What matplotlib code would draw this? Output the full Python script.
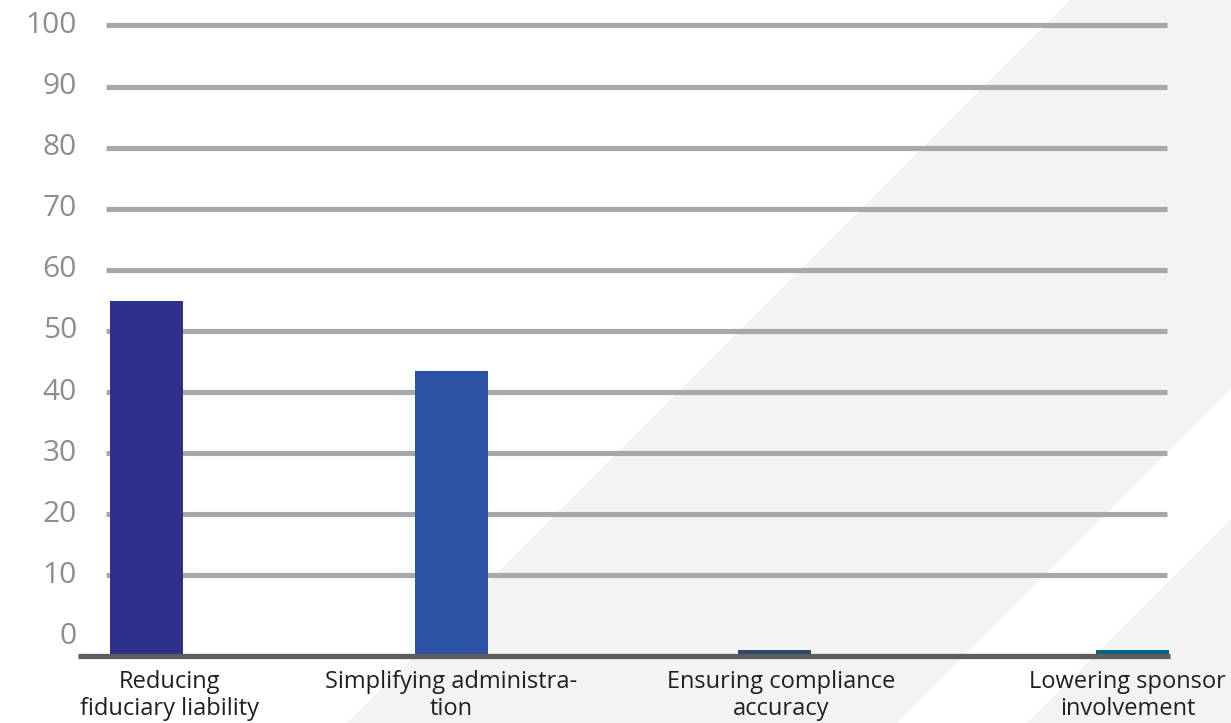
import matplotlib
matplotlib.use("Agg")
import matplotlib.pyplot as plt
from matplotlib.patches import Polygon

# Dane wykresu
kategorie = [
    "Reducing\nfiduciary liability",
    "Simplifying administra-\ntion",
    "Ensuring compliance\naccuracy",
    "Lowering sponsor\ninvolvement",
]
wartosci = [58.1, 46.6, 0.9, 0.9]
kolory = ["#2e318b", "#2b52a4", "#2c4a6b", "#006680"]
podzialka_y = [0, 10, 20, 30, 40, 50, 60, 70, 80, 90, 100]

# Układ (piksele w poziomie)
SZER, WYS = 1231, 723
srodki_slupkow = [146, 451, 774.5, 1132.5]
srodki_etykiet = [169.5, 451.5, 781, 1127.5]
szer_slupka = 73
poziom_osi = -3.13

plt.rcParams["font.family"] = ["Open Sans", "DejaVu Sans"]

fig = plt.figure(figsize=(SZER / 100, WYS / 100), dpi=100)
fig.patch.set_facecolor("white")

ax = fig.add_axes([0, 0, 1, 1])
ax.set_xlim(0, SZER)
ax.set_ylim(-14.17, 104.16)
ax.axis("off")

# Jasnoszare ukośne pasy w tle
def px(punkty):
    return [(x / SZER, 1 - y / WYS) for x, y in punkty]

for punkty in ([(1070, 0), (SZER, 0), (SZER, 389), (897, WYS), (347, WYS)],
               [(SZER, 519), (SZER, WYS), (1027, WYS)]):
    ax.add_patch(Polygon(px(punkty), closed=True, facecolor="#f3f3f3",
                         edgecolor="none", transform=ax.transAxes, zorder=0))

# Linie siatki (bez linii dla zera)
for v in podzialka_y[1:]:
    ax.plot([106, 1167], [v, v], color="#a7a8ab", linewidth=3.7,
            solid_capstyle="butt", zorder=1)

# Etykiety osi Y
for v in podzialka_y:
    ax.text(77, v, str(v), ha="right", va="center", fontsize=21.5,
            color="#8e8e91")

# Słupki
ax.bar(srodki_slupkow, wartosci, width=szer_slupka, bottom=poziom_osi,
       color=kolory, zorder=2)

# Oś pozioma
ax.plot([78, 1170], [poziom_osi, poziom_osi], color="#5d5d5f",
        linewidth=3.8, solid_capstyle="butt", zorder=3)

# Etykiety kategorii
for x, tekst in zip(srodki_etykiet, kategorie):
    ax.text(x, poziom_osi - 2.35, tekst, ha="center", va="top", fontsize=17,
            color="#231f20", linespacing=1.18)

fig.savefig("out.png", dpi=100)
plt.close(fig)
